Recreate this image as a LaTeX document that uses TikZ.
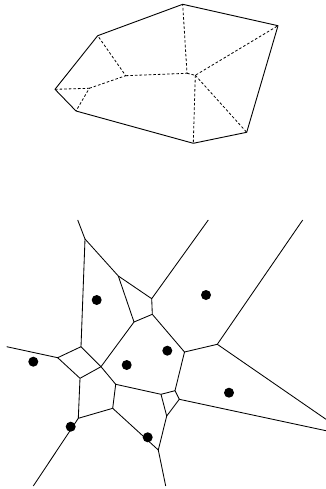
\documentclass[tikz,border=0pt]{standalone}
\usepackage{tikz}
\usetikzlibrary{calc}

\begin{document}
\begin{tikzpicture}[x=1pt, y=-1pt,
    hull/.style={line width=0.9pt, line join=round},
    tri/.style={line width=0.8pt, dash pattern=on 2.6pt off 2pt},
    cell/.style={line width=0.85pt, line join=round},
    site/.style={circle, fill=black, inner sep=0pt, minimum size=10pt}]
  \useasboundingbox (0,0) rectangle (326,489);
  % triangulation
  \coordinate (hA) at (182.7,4.3);
  \coordinate (hB) at (278,25.7);
  \coordinate (hC) at (246.7,132.3);
  \coordinate (hD) at (193.3,143.3);
  \coordinate (hE) at (76,111);
  \coordinate (hF) at (55,89.3);
  \coordinate (hG) at (97.7,35.7);
  \coordinate (in1) at (89.3,88.3);
  \coordinate (in2) at (125.7,75.7);
  \coordinate (in3) at (187,73.3);
  \coordinate (in4) at (195.3,75.3);
  \draw[hull] (hA) -- (hB) -- (hC) -- (hD) -- (hE) -- (hF) -- (hG) -- cycle;
  \draw[tri] (hF) -- (in1) -- (hE);
  \draw[tri] (in1) -- (in2) -- (hG);
  \draw[tri] (in2) -- (in3) -- (hA);
  \draw[tri] (in3) -- (in4) -- (hB);
  \draw[tri] (in4) -- (hC);
  \draw[tri] (in4) -- (hD);
  % voronoi
  \coordinate (t1) at (77.7,220);
  \coordinate (t2) at (208.3,220);
  \coordinate (t3) at (302.7,220);
  \coordinate (l1) at (6.7,346.7);
  \coordinate (r1) at (326,419.3);
  \coordinate (r2) at (326,430.7);
  \coordinate (b1) at (165.7,486);
  \coordinate (b2) at (33.3,486);
  \coordinate (v1) at (85,239);
  \coordinate (v2) at (118.3,276);
  \coordinate (v3) at (151.7,298.7);
  \coordinate (v4) at (134,322);
  \coordinate (v5) at (152.3,314.3);
  \coordinate (w1) at (57.7,357.7);
  \coordinate (w2) at (81,346.7);
  \coordinate (w3) at (101,366.7);
  \coordinate (w4) at (80,378.3);
  \coordinate (w5) at (78.3,418.3);
  \coordinate (w6) at (112.7,408.3);
  \coordinate (w7) at (115.7,384.3);
  \coordinate (w8) at (161,394.3);
  \coordinate (w9) at (175,390.7);
  \coordinate (w10) at (184.5,352);
  \coordinate (w11) at (217.3,344.3);
  \coordinate (w12) at (179.3,399.3);
  \coordinate (w13) at (166.7,416);
  \coordinate (w14) at (158.3,450);
  \draw[cell] (t1) -- (v1) -- (w2) -- (w1) -- (l1);
  \draw[cell] (v1) -- (v2) -- (v3) -- (t2);
  \draw[cell] (v2) -- (v4) -- (v5) -- (v3);
  \draw[cell] (v4) -- (w3) -- (w2);
  \draw[cell] (w1) -- (w4) -- (w3);
  \draw[cell] (w4) -- (w5) -- (w6) -- (w7) -- (w3);
  \draw[cell] (w5) -- (b2);
  \draw[cell] (w7) -- (w8) -- (w9) -- (w10) -- (v5);
  \draw[cell] (w10) -- (w11) -- (t3);
  \draw[cell] (w11) -- (r1);
  \draw[cell] (w9) -- (w12) -- (r2);
  \draw[cell] (w8) -- (w13) -- (w12);
  \draw[cell] (w13) -- (w14) -- (b1);
  \draw[cell] (w14) -- (w6);
  \node[site] (s1) at (96.7,300) {};
  \node[site] (s2) at (206,295) {};
  \node[site] (s3) at (33.3,361.7) {};
  \node[site] (s4) at (126.7,365) {};
  \node[site] (s5) at (167.3,350.7) {};
  \node[site] (s6) at (229,392.7) {};
  \node[site] (s7) at (70.7,426.7) {};
  \node[site] (s8) at (147.7,437.3) {};
\end{tikzpicture}
\end{document}
